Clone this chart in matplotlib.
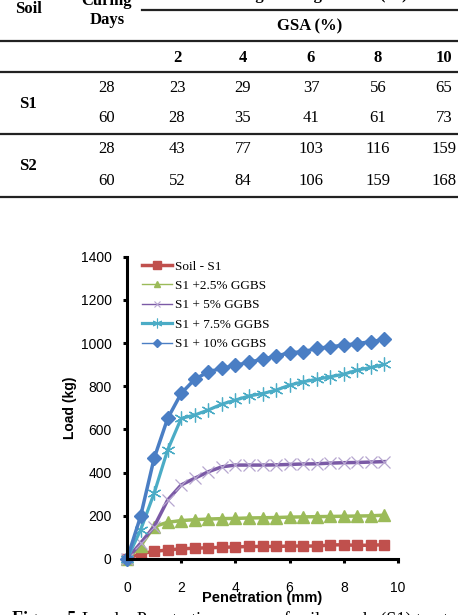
import numpy as np
import matplotlib
matplotlib.use("Agg")
import matplotlib.pyplot as plt
from matplotlib.lines import Line2D

# ---------------- data ----------------
# table: strength gain (%) for GSA contents
gsa_pct = ["2", "4", "6", "8", "10"]
soils = ["S1", "S2"]
curing_days = ["28", "60"]
gain_s1 = [[23, 29, 37, 56, 65],
           [28, 35, 41, 61, 73]]
gain_s2 = [[43, 77, 103, 116, 159],
           [52, 84, 106, 159, 168]]

# chart: load - penetration curves
penetration = np.arange(0, 10, 0.5)
load_soil = [0, 25, 35, 42, 47, 50, 52, 54, 56, 58, 58, 58, 60, 60, 60, 65, 66, 63, 64, 66]
load_25 = [0, 60, 150, 170, 178, 182, 185, 187, 188, 190, 191, 192, 194, 195, 196, 197, 198, 199, 200, 203]
load_5 = [0, 73, 150, 273, 343, 374, 404, 427, 435, 435, 435, 436, 438, 440, 441, 444, 446, 447, 449, 451]
load_75 = [0, 134, 304, 505, 651, 667, 690, 717, 736, 755, 766, 782, 805, 821, 832, 844, 856, 875, 887, 901]
load_10 = [0, 197, 466, 651, 767, 832, 867, 883, 897, 911, 925, 940, 955, 960, 975, 983, 990, 998, 1006, 1017]
labels = ["Soil - S1", "S1 +2.5% GGBS", "S1 + 5% GGBS", "S1 + 7.5% GGBS", "S1 + 10% GGBS"]

W, H = 458, 615
fig = plt.figure(figsize=(W / 100, H / 100), dpi=100)

def fy(y):
    return 1 - y / H

def fx(x):
    return x / W

serif = "Liberation Serif"
sans = "Liberation Sans"

# ---------------- table ----------------
def hline(y, x0=0, x1=W, lw=1.6):
    fig.add_artist(Line2D([fx(x0), fx(x1)], [fy(y), fy(y)], color="#222222", lw=lw,
                          transform=fig.transFigure))

hline(9.5, 142)
hline(41)
hline(72)
hline(134)
hline(197)

tk = dict(family=serif, fontsize=12, ha="center", va="center")
fig.text(fx(300), fy(-1), "Percentage Strength Gain (%)", fontweight="bold",
         family=serif, fontsize=12, ha="center", va="baseline")
fig.text(fx(28), fy(9), "Soil", fontweight="bold", **tk)
fig.text(fx(107), fy(1), "Curing", fontweight="bold", **tk)
fig.text(fx(107), fy(20), "Days", fontweight="bold", **tk)
fig.text(fx(310), fy(26), "GSA (%)", fontweight="bold", **tk)

col_x = [177, 243, 311, 378, 444]
for cx, g in zip(col_x, gsa_pct):
    fig.text(fx(cx), fy(58), g, fontweight="bold", **tk)

row_y = [[88, 118], [149, 181]]
soil_y = [104, 166]
for si, (soil, rows) in enumerate(zip(soils, [gain_s1, gain_s2])):
    fig.text(fx(28), fy(soil_y[si]), soil, fontweight="bold", **tk)
    for ri, vals in enumerate(rows):
        yy = fy(row_y[si][ri])
        fig.text(fx(107), yy, curing_days[ri], **tk)
        for cx, v in zip(col_x, vals):
            fig.text(fx(cx), yy, str(v), **tk)

# ---------------- chart ----------------
ax = fig.add_axes([fx(127), fy(559), fx(398) - fx(127), fy(256.7) - fy(559)])

c_red, c_green, c_purple = "#C0504D", "#9BBB59", "#7B5AA6"
c_cyan, c_blue = "#4BACC6", "#4A7EC4"

ax.plot(penetration, load_soil, color=c_red, lw=2.5, marker="s", ms=7.5,
        mfc=c_red, mec=c_red, clip_on=False)
ax.plot(penetration, load_25, color=c_green, lw=2.5, marker="^", ms=8.5,
        mfc=c_green, mec=c_green, clip_on=False)
ax.plot(penetration, load_5, color=c_purple, lw=2.5, marker="x", ms=9,
        mec="#B7A6D0", mew=0.9, clip_on=False)
ax.plot(penetration, load_75, color=c_cyan, lw=2.3, marker=(6, 2, 0), ms=10,
        mec=c_cyan, mew=0.9, clip_on=False)
ax.plot(penetration, load_10, color=c_blue, lw=2.5, marker="D", ms=7.5,
        mfc=c_blue, mec=c_blue, clip_on=False)

ax.set_xlim(0, 10)
ax.set_ylim(0, 1400)
ax.set_xticks(np.arange(0, 11, 2))
ax.set_yticks(np.arange(0, 1401, 200))
for s in ["top", "right"]:
    ax.spines[s].set_visible(False)
for s in ["left", "bottom"]:
    ax.spines[s].set_linewidth(2.2)
ax.tick_params(axis="both", direction="out", length=3, width=2.2,
               labelsize=10, labelfontfamily=sans, colors="black")
ax.tick_params(axis="x", pad=13)
ax.tick_params(axis="y", pad=8)
ax.set_xlabel("Penetration (mm)", family=sans, fontsize=10.5, fontweight="bold", labelpad=-3)
ax.set_ylabel("Load (kg)", family=sans, fontsize=10, fontweight="bold", labelpad=3)

handles = [
    Line2D([], [], color=c_red, lw=2.5, marker="s", ms=6, mec=c_red),
    Line2D([], [], color=c_green, lw=1, marker="^", ms=5, mfc=c_green, mec=c_green),
    Line2D([], [], color=c_purple, lw=1, marker="x", ms=5, mec="#B7A6D0", mew=0.8),
    Line2D([], [], color=c_cyan, lw=2.3, marker=(6, 2, 0), ms=7, mec=c_cyan, mew=0.8),
    Line2D([], [], color=c_blue, lw=1, marker="D", ms=4.5, mfc=c_blue, mec=c_blue),
]
ax.legend(handles, labels, loc="upper left", bbox_to_anchor=(0.03, 1.01), frameon=False,
          prop=dict(family=serif, size=9.5), handlelength=2.3, handletextpad=0.2,
          labelspacing=0.55, borderaxespad=0.1)

# ---------------- caption (cut off at the bottom) ----------------
fig.text(fx(12), fy(611), r"Figure 5.", family=serif, fontsize=13, fontweight="bold",
         ha="left", va="top")
fig.text(fx(82), fy(611), "Load \u2013 Penetration curves of soil sample (S1) treated with GGBS",
         family=serif, fontsize=13, ha="left", va="top")

fig.savefig("out.png", dpi=100)
